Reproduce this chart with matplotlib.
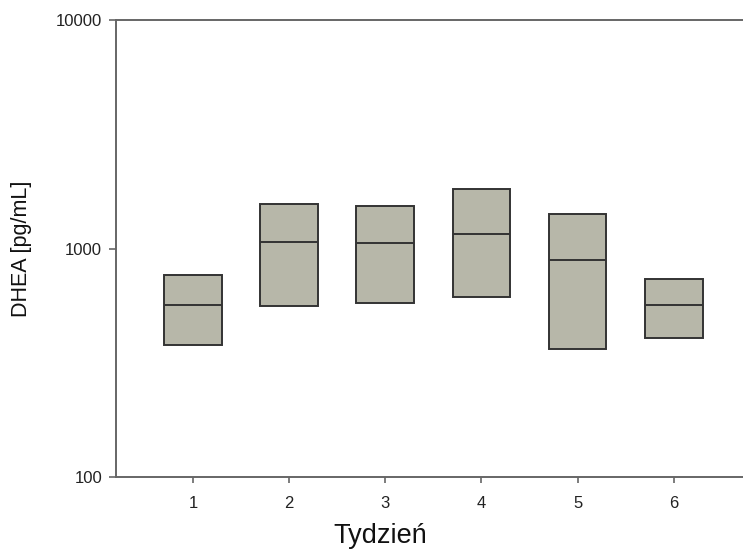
import matplotlib
matplotlib.use("Agg")
import matplotlib.pyplot as plt
import numpy as np
from matplotlib.ticker import FixedLocator, NullLocator, FixedFormatter

plt.rcParams['font.family'] = ['Liberation Sans', 'DejaVu Sans']

weeks = [1, 2, 3, 4, 5, 6]
q1 = [379, 562, 577, 611, 363, 405]
median = [567, 1067, 1060, 1157, 894, 567]
q3 = [765, 1566, 1539, 1821, 1419, 733]
yticks = [100, 1000, 10000]
ytick_labels = ["100", "1000", "10000"]

fig = plt.figure(figsize=(7.43, 5.51), dpi=100)
ax = fig.add_axes([0.1561, 0.1343, 0.8439, 0.8294])

box_w = 0.6
fill = '#b7b7a9'
edge = '#333333'
heights = [b - a for a, b in zip(q1, q3)]
ax.bar(weeks, heights, bottom=q1, width=box_w, color=fill, edgecolor=edge,
       linewidth=1.4, zorder=2)
ax.hlines(median, [w - box_w / 2 for w in weeks], [w + box_w / 2 for w in weeks],
          colors=edge, linewidth=1.4, zorder=3)

ax.set_yscale('log')
ax.set_ylim(100, 10000)
ax.set_xlim(0.2, 6.72)
ax.yaxis.set_major_locator(FixedLocator(yticks))
ax.yaxis.set_major_formatter(FixedFormatter(ytick_labels))
ax.yaxis.set_minor_locator(NullLocator())
ax.set_xticks(weeks)
ax.set_xticklabels([str(w) for w in weeks])

for s in ['left', 'bottom', 'top']:
    ax.spines[s].set_color('#666666')
    ax.spines[s].set_linewidth(1.4)
ax.spines['right'].set_visible(False)

ax.tick_params(axis='y', direction='out', length=5, width=1.2, color='#666666',
               labelsize=12, pad=5, labelcolor='#222222')
ax.tick_params(axis='x', direction='out', length=4.5, width=1.2, color='#666666',
               labelsize=12, pad=9.5, labelcolor='#222222')

ax.set_xlabel('Tydzień', fontsize=19.5, color='#111111')
ax.xaxis.set_label_coords(0.421, -0.100)
ax.set_ylabel('DHEA [pg/mL]', fontsize=15.5, color='#111111')
ax.yaxis.set_label_coords(-0.134, 0.5)

fig.savefig('out.png', dpi=100)
